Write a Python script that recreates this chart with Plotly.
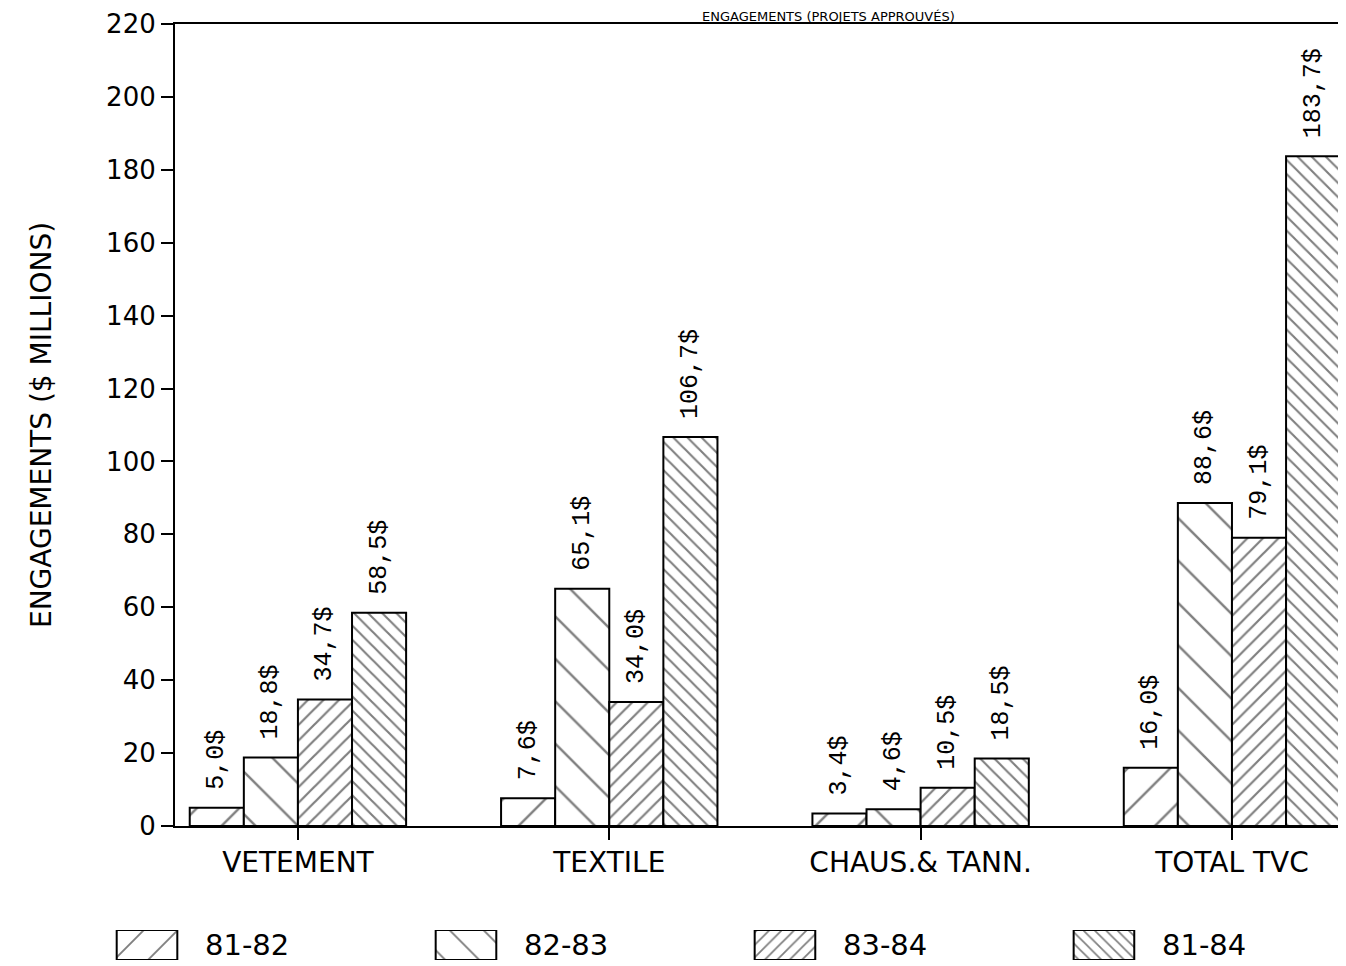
import plotly.graph_objects as go

categories = ["VETEMENT", "TEXTILE", "CHAUS.& TANN.", "TOTAL TVC"]
series_names = ["81-82", "82-83", "83-84", "81-84"]
v_81_82 = [5.0, 7.6, 3.4, 16.0]
v_82_83 = [18.8, 65.1, 4.6, 88.6]
v_83_84 = [34.7, 34.0, 10.5, 79.1]
v_81_84 = [58.5, 106.7, 18.5, 183.7]
y_ticks = [0, 20, 40, 60, 80, 100, 120, 140, 160, 180, 200, 220]

values = [v_81_82, v_82_83, v_83_84, v_81_84]
patterns = [
    dict(shape="/", size=30, solidity=0.08),
    dict(shape="\\", size=30, solidity=0.08),
    dict(shape="/", size=11, solidity=0.2),
    dict(shape="\\", size=10, solidity=0.21),
]

def fmt(v):
    return "\u00a0" + f"{v:.1f}".replace(".", ",") + "$"

fig = go.Figure()
for name, vals, pat in zip(series_names, values, patterns):
    fig.add_trace(go.Bar(
        x=categories, y=vals, name=name,
        text=[fmt(v) for v in vals],
        textposition="outside", textangle=-90, constraintext="none",
        textfont=dict(family="Liberation Mono", size=25, color="black"),
        cliponaxis=False,
        marker=dict(color="white", line=dict(color="black", width=2),
                    pattern=dict(shape=pat["shape"], size=pat["size"],
                                 solidity=pat["solidity"], fgcolor="black",
                                 bgcolor="white", fillmode="overlay")),
        showlegend=False,
        xaxis="x", yaxis="y",
    ))

# legend swatches drawn as bars on a small secondary axis
for i, (name, pat) in enumerate(zip(series_names, patterns)):
    fig.add_trace(go.Bar(
        x=[i], y=[1], width=0.19, name=name,
        marker=dict(color="white", line=dict(color="black", width=2),
                    pattern=dict(shape=pat["shape"], size=pat["size"] * 0.8,
                                 solidity=pat["solidity"], fgcolor="black",
                                 bgcolor="white", fillmode="overlay")),
        showlegend=False, hoverinfo="skip",
        xaxis="x2", yaxis="y2",
    ))
    fig.add_annotation(x=i + 0.175, y=0.5, xref="x2", yref="y2", text=name,
                       showarrow=False, xanchor="left", yanchor="middle",
                       font=dict(family="DejaVu Sans", size=29, color="black"))

font_cat = dict(family="DejaVu Sans", size=28, color="black")

fig.update_layout(
    width=1338, height=958,
    margin=dict(l=102, r=6, t=16, b=4),
    paper_bgcolor="white", plot_bgcolor="white",
    barmode="group", bargap=0.305, bargroupgap=0,
    uniformtext=dict(minsize=25, mode="show"),
    font=font_cat,
    xaxis=dict(domain=[0.0528, 1], type="category", range=[-0.395, 3.347],
               showline=True, linecolor="black", linewidth=2, mirror=True,
               ticks="outside", ticklen=12, tickwidth=2, tickcolor="black",
               ticklabelstandoff=-2, tickfont=font_cat, anchor="y",
               showgrid=False, zeroline=False, automargin=False),
    yaxis=dict(domain=[0.145, 1], range=[0, 220], tickvals=y_ticks,
               showline=True, linecolor="black", linewidth=2, mirror=True,
               ticks="outside", ticklen=12, tickwidth=2, tickcolor="black",
               ticklabelstandoff=0, ticklabeloverflow="allow",
               tickfont=dict(family="DejaVu Sans", size=26, color="black"),
               showgrid=False, zeroline=False, anchor="x", automargin=False,
               title=dict(text="ENGAGEMENTS ($ MILLIONS)", standoff=46,
                          font=dict(family="DejaVu Sans", size=28, color="black"))),
    xaxis2=dict(domain=[0, 1], range=[-0.116, 3.74], visible=False, anchor="y2"),
    yaxis2=dict(domain=[0.00213, 0.0341], range=[0, 1], visible=False, anchor="x2"),
)

fig.add_annotation(text="ENGAGEMENTS (PROJETS APPROUVÉS)", x=(820 - 102) / 1230, y=1,
                   xref="paper", yref="paper", xanchor="center", yanchor="bottom",
                   yshift=-2, showarrow=False,
                   font=dict(family="DejaVu Sans", size=13, color="black"))

fig.write_html("out.html")
